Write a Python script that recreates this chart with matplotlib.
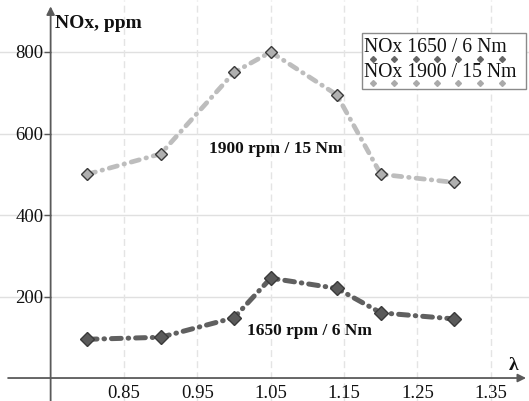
import matplotlib
matplotlib.use("Agg")
import matplotlib.pyplot as plt
from matplotlib.lines import Line2D
from matplotlib.patches import Rectangle

# ---- data ----
lam = [0.80, 0.90, 1.00, 1.05, 1.14, 1.20, 1.30]
nox_1650 = [95, 100, 148, 245, 220, 160, 145]
nox_1900 = [500, 550, 750, 800, 695, 500, 480]
xticks = [0.85, 0.95, 1.05, 1.15, 1.25, 1.35]
xtick_labels = ["0.85", "0.95", "1.05", "1.15", "1.25", "1.35"]
yticks = [200, 400, 600, 800]
ytick_labels = ["200", "400", "600", "800"]
legend_labels = ["NOx 1650 / 6 Nm", "NOx 1900 / 15 Nm"]
annot_1900 = "1900 rpm / 15 Nm"
annot_1650 = "1650 rpm / 6 Nm"

plt.rcParams['font.family'] = ['Liberation Serif', 'DejaVu Serif']
plt.rcParams['lines.scale_dashes'] = False

fig = plt.figure(figsize=(5.29, 4.01), dpi=100)
ax = fig.add_axes([0, 0, 1, 1])
ax.set_xlim(0.681, 1.402)
ax.set_ylim(-56.4, 927.6)

for s in ax.spines.values():
    s.set_visible(False)
ax.spines['left'].set_position(('data', 0.75))
ax.spines['bottom'].set_position(('data', 0))

# grid
for yv in yticks:
    ax.axhline(yv, color='#e0e0e0', lw=1.0, zorder=0)
for xv in xticks:
    ax.axvline(xv, color='#e4e4e4', lw=1.0, ls=(0, (5, 3)), zorder=0)

# axes with arrows
axcol = '#5a5a5a'
ax.annotate('', xy=(1.398, 0), xytext=(0.692, 0),
            arrowprops=dict(arrowstyle='-|>', color=axcol, lw=1.3,
                            mutation_scale=12, shrinkA=0, shrinkB=0), zorder=3)
ax.annotate('', xy=(0.75, 912), xytext=(0.75, -60),
            arrowprops=dict(arrowstyle='-|>', color=axcol, lw=1.3,
                            mutation_scale=12, shrinkA=0, shrinkB=0), zorder=3)

ax.set_yticks(yticks)
ax.set_yticklabels(ytick_labels)
ax.set_xticks(xticks)
ax.set_xticklabels(xtick_labels)
ax.tick_params(axis='y', direction='out', length=5, width=1, color=axcol,
               pad=0, labelsize=13.5, labelcolor='#111111')
ax.tick_params(axis='x', length=0, pad=5, labelsize=13.5, labelcolor='#111111')

# series
ax.plot(lam, nox_1900, color='#bdbdbd', lw=3.4, dash_capstyle='round',
        dashes=(6.0, 5.0, 0.4, 5.0), marker='D', markersize=6.5,
        markerfacecolor='#b0b0b0', markeredgecolor='#3a3a3a',
        markeredgewidth=1.0, zorder=4)
ax.plot(lam, nox_1650, color='#606060', lw=3.6, dash_capstyle='round',
        dashes=(7.0, 5.0, 0.4, 5.0), marker='D', markersize=7.5,
        markerfacecolor='#5a5a5a', markeredgecolor='#3a3a3a',
        markeredgewidth=1.0, zorder=4)

# annotations
ax.text(1.057, 562, annot_1900, fontsize=12.5, fontweight='bold',
        ha='center', va='center', color='#111111')
ax.text(1.103, 115, annot_1650, fontsize=12.5, fontweight='bold',
        ha='center', va='center', color='#111111')
ax.text(55 / 529, 1 - 28 / 401, "NOx, ppm", transform=ax.transAxes,
        fontsize=14, fontweight='bold', ha='left', va='baseline', color='#111111')
ax.text(514 / 529, 1 - 365 / 401, "λ", transform=ax.transAxes,
        fontsize=14, fontweight='bold', ha='center', va='center', color='#111111')

# legend (custom)
bx0, bx1 = 362 / 529, 526 / 529
by0, by1 = 1 - 89 / 401, 1 - 33 / 401
ax.add_patch(Rectangle((bx0, by0), bx1 - bx0, by1 - by0, transform=ax.transAxes,
                       facecolor='white', edgecolor='#8a8a8a', lw=1.0, zorder=6))
leg_colors = ['#666666', '#aaaaaa']
text_base = [52, 77]
mark_y = [58.5, 83]
mk_x = [373, 394, 416, 437, 458, 480, 502]
for lbl, c, ty, my in zip(legend_labels, leg_colors, text_base, mark_y):
    ax.text(364 / 529, 1 - ty / 401, lbl, transform=ax.transAxes, fontsize=14.2,
            ha='left', va='baseline', color='#111111', zorder=7)
    ax.add_line(Line2D([v / 529 for v in mk_x], [1 - my / 401] * len(mk_x),
                       transform=ax.transAxes, ls='none', marker='D',
                       markersize=3.0, color=c, zorder=7))

fig.savefig('out.png', dpi=100)
